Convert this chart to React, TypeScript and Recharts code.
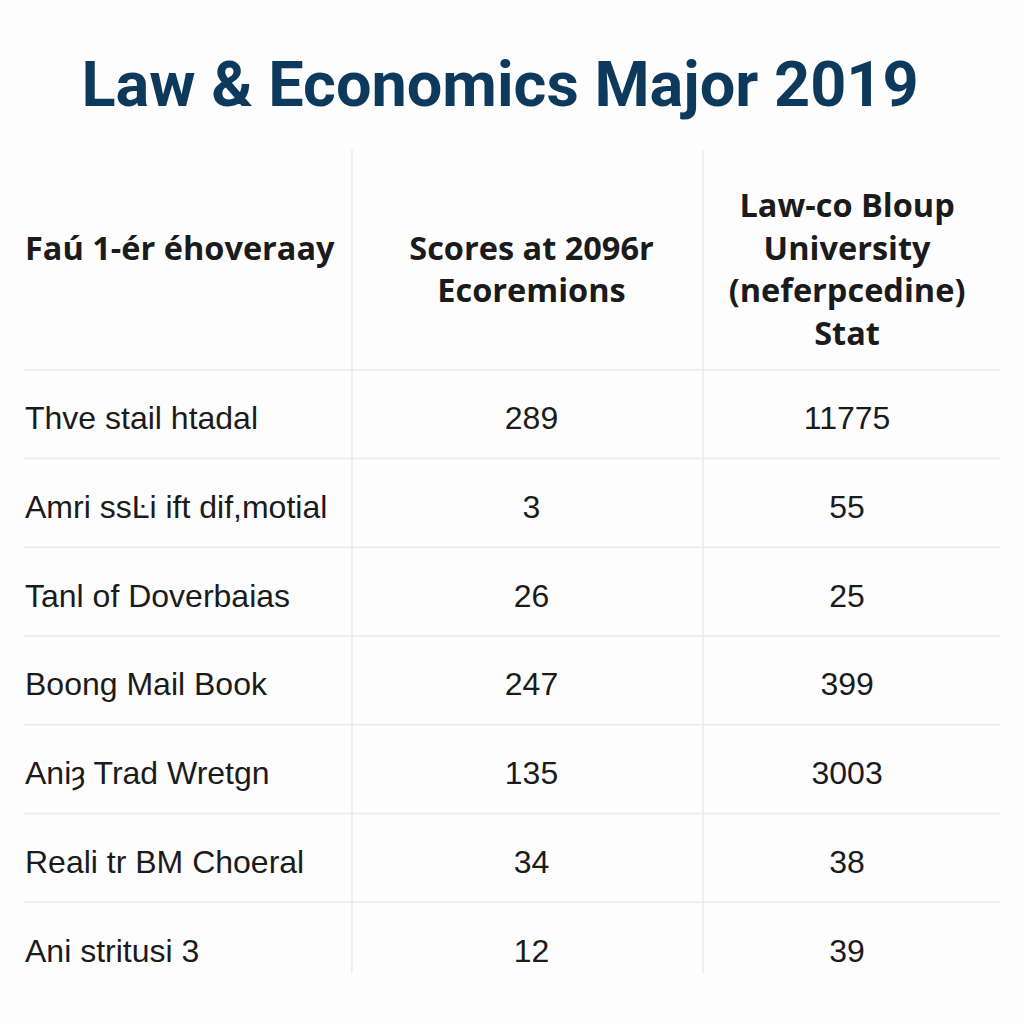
import React from 'react';
import { ScatterChart, Scatter, XAxis, YAxis, ReferenceLine } from 'recharts';

// table content
const title = 'Law & Economics Major 2019';
const headerCol1 = ['Faú 1-ér éhoveraay', ''];
const headerCol2 = ['Scores at 2096r', 'Ecoremions'];
const headerCol3 = ['Law-co Bloup', 'University', '(neferpcedine)', 'Stat'];
const rowLabels = [
  'Thve stail htadal',
  'Amri ssĿi ift dif,motial',
  'Tanl of Doverbaias',
  'Boong Mail Book',
  'Aniȝ Trad Wretgn',
  'Reali tr BM Choeral',
  'Ani stritusi 3',
];
const scoresCol = [289, 3, 26, 247, 135, 34, 12];
const statCol = [11775, 55, 25, 399, 3003, 38, 39];

// layout (axis units: columns 0..3, rows -2.5..7, header above row 0)
const COL_SPLITS = [1.008, 2.087];
const COL2_X = 1.56;
const COL3_X = 2.53;
const HEADER_Y = -1.15;
const LINE_H = 42.5;
const GRID = '#e9e9e9';
const INK = '#1b1b1b';

const headerData = [
  { x: 0, y: HEADER_Y, lines: headerCol1, anchor: 'start' },
  { x: COL2_X, y: HEADER_Y, lines: headerCol2, anchor: 'middle' },
  { x: COL3_X, y: HEADER_Y, lines: headerCol3, anchor: 'middle' },
];
const labelData = rowLabels.map((label, i) => ({ x: 0, y: i + 0.5, text: label }));
const scoreData = scoresCol.map((v, i) => ({ x: COL2_X, y: i + 0.5, text: String(v) }));
const statData = statCol.map((v, i) => ({ x: COL3_X, y: i + 0.5, text: String(v) }));

const HeaderCell = (props: any) => {
  const { cx, cy, payload } = props;
  const n = payload.lines.length;
  const top = cy - ((n - 1) * LINE_H) / 2;
  const x = payload.anchor === 'start' ? cx + 1 : cx;
  return (
    <text
      x={x}
      y={top}
      textAnchor={payload.anchor}
      fontFamily="'Open Sans', sans-serif"
      fontWeight={700}
      fontSize={32.5}
      fill={INK}
      dominantBaseline="central"
    >
      {payload.lines.map((l: string, i: number) => (
        <tspan key={i} x={x} dy={i === 0 ? 0 : LINE_H}>
          {l}
        </tspan>
      ))}
    </text>
  );
};

const makeCell = (anchor: 'start' | 'middle') => (props: any) => {
  const { cx, cy, payload } = props;
  return (
    <text
      x={anchor === 'start' ? cx + 1 : cx}
      y={cy + 4}
      textAnchor={anchor}
      dominantBaseline="central"
      fontFamily="'Liberation Sans', Arial, sans-serif"
      fontSize={32}
      fill={INK}
    >
      {payload.text}
    </text>
  );
};

const App = () => {
  return (
    <div style={{ position: 'absolute', left: 0, top: 0, width: 1024, height: 1024, background: '#fdfdfd' }}>
      <div
        style={{
          position: 'absolute',
          left: 0,
          top: 47,
          width: 1000,
          textAlign: 'center',
          fontFamily: 'Roboto, sans-serif',
          fontWeight: 700,
          fontSize: 63,
          lineHeight: '76px',
          color: '#0d3a5c',
        }}
      >
        {title}
      </div>
      <ScatterChart width={1024} height={1024} margin={{ top: 148, right: 24, bottom: 33, left: 24 }}>
        <XAxis type="number" dataKey="x" domain={[0, 3]} hide />
        <YAxis type="number" dataKey="y" domain={[-2.5, 7]} reversed hide />
        {[0, 1, 2, 3, 4, 5, 6].map((r) => (
          <ReferenceLine
            key={'h' + r}
            segment={[{ x: 0, y: r }, { x: 3, y: r }]}
            stroke={GRID}
            strokeWidth={1.5}
          />
        ))}
        {COL_SPLITS.map((c) => (
          <ReferenceLine
            key={'v' + c}
            segment={[{ x: c, y: -2.48 }, { x: c, y: 6.8 }]}
            stroke={GRID}
            strokeWidth={1.5}
          />
        ))}
        <Scatter data={headerData} shape={HeaderCell} isAnimationActive={false} />
        <Scatter data={labelData} shape={makeCell('start')} isAnimationActive={false} />
        <Scatter data={scoreData} shape={makeCell('middle')} isAnimationActive={false} />
        <Scatter data={statData} shape={makeCell('middle')} isAnimationActive={false} />
      </ScatterChart>
    </div>
  );
};

export default App;
